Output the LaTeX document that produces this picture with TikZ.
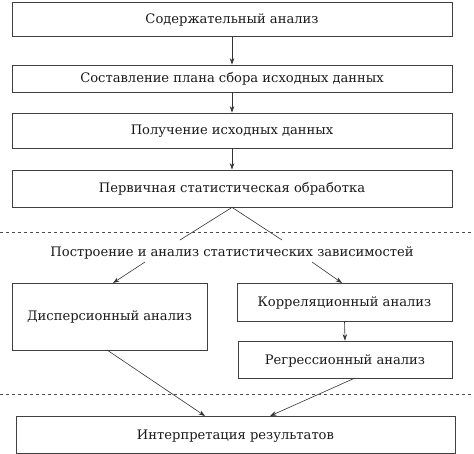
\documentclass[tikz,border=0pt]{standalone}
\usepackage{fontspec}
\setmainfont{DejaVu Serif}
\usetikzlibrary{arrows.meta}
\begin{document}
\begin{tikzpicture}[x=1pt,y=-1pt,
  txt/.style={font=\fontsize{13.1}{16}\selectfont,text=black!90},
  box/.style={draw=black!75,line width=0.8pt,inner sep=0pt,txt,text height=0.9em,text depth=0pt},
  arr/.style={draw=black!80,line width=0.6pt,-{Stealth[length=6.5pt,width=4.5pt]}},
  ln/.style={draw=black!80,line width=0.6pt},
  dashline/.style={draw=black!70,line width=0.7pt,dash pattern=on 3pt off 3pt}]
\useasboundingbox (0,0) rectangle (474,454);
\node[box,minimum width=440pt,minimum height=34pt] (b1) at (232,19.5) {Содержательный анализ};
\node[box,minimum width=440pt,minimum height=27pt] (b2) at (232,78.5) {Составление плана сбора исходных данных};
\node[box,minimum width=440pt,minimum height=35pt] (b3) at (232,130.5) {Получение исходных данных};
\node[box,minimum width=440pt,minimum height=37pt] (b4) at (232,188.5) {Первичная статистическая обработка};
\node[txt,inner sep=0pt] (t) at (232,253) {Построение и анализ статистических зависимостей};
\node[box,minimum width=195pt,minimum height=67pt] (d) at (109.5,316.5) {Дисперсионный анализ};
\node[box,minimum width=215pt,minimum height=38pt] (k) at (344.5,302) {Корреляционный анализ};
\node[box,minimum width=214pt,minimum height=37pt] (r) at (345,359.5) {Регрессионный анализ};
\node[box,minimum width=439pt,minimum height=37pt] (i) at (235.5,434.5) {Интерпретация результатов};
\draw[arr] (b1.south) -- (b2.north);
\draw[arr] (b2.south) -- (b3.north);
\draw[arr] (b3.south) -- (b4.north);
\coordinate (tl) at (180,240);
\coordinate (tr) at (282,240);
\draw[ln] (tl) -- (b4.south) -- (tr);
\coordinate (sl) at (145,262);
\coordinate (sr) at (312,262);
\coordinate (el) at (113,283);
\coordinate (er) at (342,283);
\draw[arr] (sl) -- (el);
\draw[arr] (sr) -- (er);
\draw[arr] (k.south) -- (r.north);
\coordinate (ds) at (107,350);
\coordinate (rs) at (355,378);
\coordinate (i1) at (205,416);
\coordinate (i2) at (270,416);
\draw[arr] (ds) -- (i1);
\draw[arr] (rs) -- (i2);
\coordinate (d1a) at (0,232); \coordinate (d1b) at (474,232);
\coordinate (d2a) at (0,394); \coordinate (d2b) at (474,394);
\draw[dashline] (d1a) -- (d1b);
\draw[dashline] (d2a) -- (d2b);
\end{tikzpicture}
\end{document}
